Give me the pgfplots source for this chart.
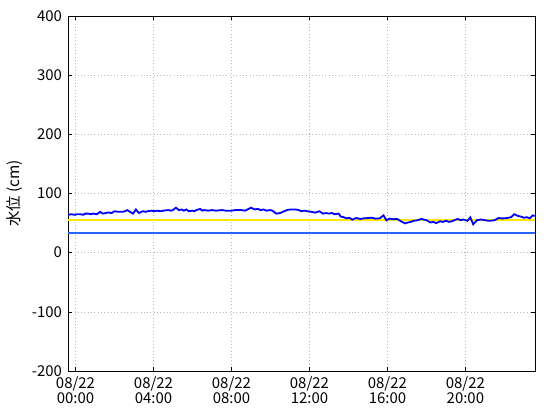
\documentclass[border=0pt]{standalone}
\usepackage{pgfplots}
\pgfplotsset{compat=1.18}
\usepackage{fontspec}
\setmainfont{Noto Sans CJK JP}
\definecolor{lvlyellow}{RGB}{255,230,0}
\definecolor{lvlblue}{RGB}{40,100,255}
\definecolor{datablue}{RGB}{0,0,255}
\begin{document}
\begin{tikzpicture}
\useasboundingbox (-68bp,-49bp) rectangle (492bp,371bp);
\begin{axis}[at={(0,0)}, anchor=south west, scale only axis,
  width=467bp, height=355bp,
  xmin=-0.385, xmax=23.57, ymin=-200, ymax=400,
  ytick={-200,-100,0,100,200,300,400},
  yticklabels={-200,-100,0,100,200,300,400},
  xtick={0,4,8,12,16,20},
  xticklabels={{08/22\\00:00},{08/22\\04:00},{08/22\\08:00},{08/22\\12:00},{08/22\\16:00},{08/22\\20:00}},
  xticklabel style={align=center, font=\fontsize{15}{15.5}\selectfont, yshift=-2bp},
  yticklabel style={font=\fontsize{15}{16}\selectfont, xshift=-2.5bp},
  tick align=inside, major tick length=4bp,
  axis line style={line width=0.8bp},
  tick style={line width=0.6bp, black},
  grid=major, grid style={gray!55, line width=0.6bp, dash pattern=on 0.7bp off 2.6bp},
  ylabel={水位 (cm)},
  ylabel style={at={(axis description cs:-0.115,0.5)}, anchor=center, font=\fontsize{15.5}{16}\selectfont},
  clip=true,
]
\addplot[lvlyellow, line width=2.4bp] coordinates {(-0.385,55) (23.57,55)};
\addplot[lvlblue, line width=2bp] coordinates {(-0.385,34) (23.57,34)};
\addplot[datablue, line width=1.8bp] table {
x y
-0.38 64
-0.2 65
-0.05 64
0.1 65
0.23 65
0.4 64
0.5 66
0.64 66
0.8 65
0.9 66
1.1 65
1.26 69
1.4 66
1.55 67
1.67 68
1.85 67
2.0 70
2.2 69
2.4 69
2.55 70
2.65 72
2.8 69
2.95 66
3.1 73
3.25 67
3.45 70
3.6 69
3.7 70
3.9 71
4.05 70
4.2 71
4.35 70
4.5 71
4.75 72
4.9 71
5.0 72
5.15 76
5.3 72
5.45 73
5.55 71
5.7 73
5.8 70
6.0 71
6.1 70
6.2 72
6.4 74
6.5 71
6.6 72
6.8 71
7.0 72
7.2 71
7.5 72
7.7 71
8.0 71
8.2 72
8.5 72
8.7 71
9.0 76
9.2 73
9.35 74
9.5 72
9.65 73
9.8 71
10.0 72
10.1 71
10.3 66
10.5 67
10.7 70
10.85 72
11.0 73
11.3 73
11.45 72
11.6 70
11.75 71
11.9 70
12.1 69
12.3 67.6
12.5 70
12.6 68
12.7 66
12.85 67
13.0 66
13.15 67
13.3 65
13.5 66
13.6 61
13.75 60
13.9 58
14.05 59
14.2 55.7
14.4 58.7
14.6 57
14.8 58
15.0 58.5
15.2 59
15.4 57.5
15.6 58
15.8 63
15.95 54.6
16.1 57.6
16.3 56.5
16.5 57
16.7 53
16.9 49.5
17.05 51
17.2 52
17.35 54
17.5 54.5
17.75 57
17.9 55.5
18.0 55
18.2 51
18.35 52
18.5 50
18.7 53
18.85 52
19.0 54
19.15 52
19.3 53
19.45 55
19.6 57
19.75 55
19.9 56
20.1 53.8
20.25 59.7
20.4 48
20.6 55
20.8 56
21.0 55
21.15 54
21.3 54
21.5 55
21.7 58.5
21.85 58
22.0 58
22.2 59
22.35 60
22.5 65
22.7 62
22.85 61
23.0 59
23.15 60
23.3 58
23.45 63
23.56 62
};
\end{axis}
\end{tikzpicture}
\end{document}
